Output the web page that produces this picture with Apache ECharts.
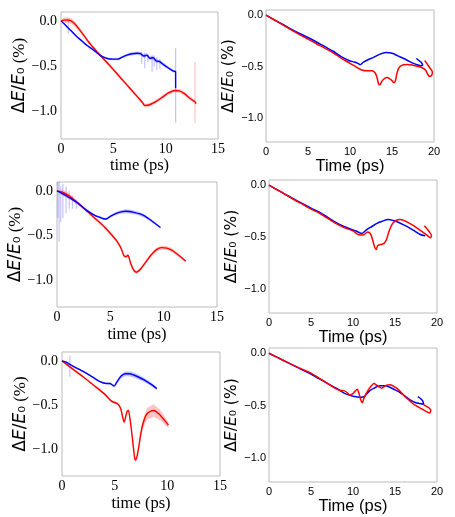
<!DOCTYPE html>
<html><head><meta charset="utf-8">
<script src="https://cdn.jsdelivr.net/npm/echarts@6/dist/echarts.min.js"></script>
<style>html,body{margin:0;padding:0;background:#fff}#c{width:455px;height:517px}</style>
</head><body><div id="c"></div><script>
// ---------- Panel 1 (top-left) ----------
const p1BlueX = [0, 0.3, 0.6, 1.0, 1.5, 2.0, 2.5, 3.0, 3.5, 3.9, 4.5, 5.0, 5.4, 5.8, 6.3, 6.8, 7.3, 7.6, 7.9, 8.2, 8.5, 8.8, 9.1, 9.4, 9.8, 10.3, 10.7, 10.95, 10.95];
const p1BlueY = [0, -0.03, -0.065, -0.11, -0.17, -0.22, -0.27, -0.31, -0.355, -0.39, -0.415, -0.42, -0.42, -0.40, -0.375, -0.36, -0.355, -0.36, -0.385, -0.375, -0.41, -0.405, -0.44, -0.445, -0.48, -0.52, -0.55, -0.56, -0.74];
const p1BlueS = [0, 0.01, 0.012, 0.012, 0.012, 0.012, 0.012, 0.012, 0.012, 0.012, 0.012, 0.012, 0.012, 0.012, 0.015, 0.018, 0.02, 0.02, 0.02, 0.02, 0.02, 0.02, 0.02, 0.02, 0.02, 0.015, 0.015, 0.015, 0.015];
const p1BlueSpikes = [[0.7, 0.0, -0.14], [7.7, -0.34, -0.47], [8.0, -0.35, -0.52], [8.3, -0.36, -0.45], [8.7, -0.37, -0.56], [8.9, -0.38, -0.5], [9.15, -0.40, -0.54], [9.45, -0.42, -0.53], [10.95, -0.3, -1.12]];
const p1RedX = [0, 0.3, 0.6, 1.0, 1.4, 1.8, 2.2, 2.6, 3.0, 3.4, 3.9, 4.5, 5.0, 5.5, 6.0, 6.5, 7.0, 7.5, 7.8, 8.0, 8.4, 8.8, 9.3, 9.8, 10.3, 10.9, 11.3, 11.8, 12.3, 12.8, 12.9];
const p1RedY = [0, 0.01, 0.012, 0.0, -0.04, -0.10, -0.16, -0.225, -0.28, -0.335, -0.395, -0.47, -0.535, -0.60, -0.665, -0.73, -0.795, -0.86, -0.9, -0.93, -0.925, -0.905, -0.87, -0.83, -0.79, -0.765, -0.77, -0.80, -0.85, -0.89, -0.91];
const p1RedS = [0, 0.03, 0.03, 0.03, 0.028, 0.025, 0.02, 0.02, 0.02, 0.02, 0.02, 0.018, 0.018, 0.018, 0.018, 0.018, 0.018, 0.018, 0.018, 0.018, 0.02, 0.02, 0.02, 0.02, 0.02, 0.02, 0.02, 0.02, 0.02, 0.02, 0.02];
const p1RedSpikes = [[12.8, -0.45, -1.13]];

// ---------- Panel 2 (top-right) ----------
const p2BlueX = [0, 1, 2, 3, 4, 5, 6, 7, 8, 9, 10, 10.5, 11.0, 11.2, 11.6, 12.2, 12.8, 13.5, 14.3, 15.0, 15.7, 16.4, 17.1, 17.8, 18.4, 18.65, 18.5, 18.2, 17.9];
const p2BlueY = [0, -0.045, -0.09, -0.135, -0.178, -0.217, -0.26, -0.305, -0.35, -0.405, -0.444, -0.455, -0.47, -0.48, -0.455, -0.43, -0.41, -0.38, -0.363, -0.37, -0.395, -0.42, -0.45, -0.475, -0.49, -0.485, -0.46, -0.44, -0.42];
const p2RedX = [0, 1, 2, 3, 4, 5, 6, 7, 8, 9, 10, 10.5, 11, 11.5, 12, 12.6, 13.0, 13.2, 13.4, 13.55, 13.8, 14.1, 14.4, 14.7, 15.0, 15.2, 15.4, 15.6, 15.8, 16.2, 16.8, 17.4, 18.0, 18.6, 19.0, 19.3, 19.5, 19.75, 19.8, 19.5, 19.2, 18.9];
const p2RedY = [0, -0.047, -0.095, -0.142, -0.188, -0.232, -0.277, -0.32, -0.365, -0.42, -0.467, -0.49, -0.515, -0.535, -0.54, -0.54, -0.56, -0.6, -0.665, -0.675, -0.64, -0.615, -0.605, -0.615, -0.635, -0.655, -0.635, -0.56, -0.515, -0.485, -0.478, -0.483, -0.495, -0.51, -0.535, -0.58, -0.595, -0.58, -0.55, -0.51, -0.475, -0.44];

// ---------- Panel 3 (middle-left) ----------
const p3BlueX = [0, 0.5, 1.0, 1.5, 2.0, 2.75, 3.5, 4.0, 4.5, 4.7, 5.0, 5.5, 6.0, 6.4, 6.8, 7.2, 7.7, 8.2, 8.7, 9.2, 9.7];
const p3BlueY = [0, -0.03, -0.065, -0.10, -0.14, -0.215, -0.27, -0.295, -0.315, -0.31, -0.285, -0.255, -0.235, -0.228, -0.23, -0.24, -0.255, -0.28, -0.32, -0.365, -0.41];
const p3BlueS = [0, 0.015, 0.015, 0.012, 0.012, 0.012, 0.012, 0.012, 0.012, 0.012, 0.012, 0.018, 0.02, 0.022, 0.022, 0.022, 0.02, 0.02, 0.018, 0.015, 0.012];
const p3BlueSpikes = [[0.08, 0.1, -0.3], [0.2, 0.1, -0.57], [0.35, 0.05, -0.35], [0.55, 0.08, -0.3], [0.85, 0.05, -0.25], [1.15, 0.0, -0.2], [1.45, -0.05, -0.2], [1.8, -0.1, -0.2]];
const p3RedX = [0, 0.5, 1.0, 1.5, 2.0, 2.75, 3.5, 4.5, 5.25, 5.6, 6.0, 6.3, 6.5, 6.65, 6.9, 7.2, 7.45, 7.8, 8.3, 8.8, 9.3, 9.8, 10.3, 10.8, 11.4, 12.07];
const p3RedY = [0, -0.015, -0.045, -0.09, -0.14, -0.22, -0.3, -0.41, -0.51, -0.56, -0.64, -0.73, -0.735, -0.72, -0.81, -0.89, -0.91, -0.88, -0.80, -0.72, -0.66, -0.635, -0.64, -0.665, -0.72, -0.785];
const p3RedS = [0, 0.03, 0.03, 0.028, 0.022, 0.02, 0.018, 0.018, 0.018, 0.018, 0.018, 0.018, 0.018, 0.018, 0.02, 0.02, 0.02, 0.02, 0.02, 0.02, 0.022, 0.022, 0.022, 0.02, 0.02, 0.018];

// ---------- Panel 4 (middle-right) ----------
const p4BlueX = [0, 1, 2, 3, 4, 5, 6, 7, 8, 9, 10, 10.6, 11.05, 11.6, 12.2, 12.8, 13.4, 14.2, 14.8, 15.4, 16.1, 16.8, 17.4, 18.0, 18.6];
const p4BlueY = [0, -0.045, -0.09, -0.135, -0.178, -0.22, -0.26, -0.31, -0.36, -0.40, -0.43, -0.45, -0.464, -0.43, -0.40, -0.37, -0.35, -0.33, -0.34, -0.357, -0.385, -0.415, -0.445, -0.475, -0.487];
const p4RedX = [0, 1, 2, 3, 4, 5, 6, 7, 8, 9, 10, 10.6, 11.2, 11.75, 12.1, 12.35, 12.55, 12.75, 12.95, 13.3, 13.7, 14.0, 14.3, 14.7, 15.1, 15.6, 16.2, 16.9, 17.6, 18.2, 18.8, 19.2, 19.35, 19.1, 18.5];
const p4RedY = [0, -0.046, -0.093, -0.14, -0.185, -0.23, -0.27, -0.32, -0.37, -0.41, -0.44, -0.474, -0.48, -0.45, -0.47, -0.53, -0.59, -0.62, -0.58, -0.57, -0.56, -0.52, -0.44, -0.37, -0.34, -0.33, -0.345, -0.375, -0.41, -0.445, -0.48, -0.505, -0.49, -0.45, -0.39];

// ---------- Panel 5 (bottom-left) ----------
const p5BlueX = [0, 0.4, 0.75, 1.2, 2.0, 2.8, 3.6, 4.2, 4.55, 4.75, 4.95, 5.2, 5.6, 6.0, 6.4, 6.8, 7.3, 7.8, 8.4, 9.0];
const p5BlueY = [0, -0.015, -0.04, -0.07, -0.12, -0.175, -0.235, -0.255, -0.255, -0.27, -0.285, -0.24, -0.175, -0.145, -0.145, -0.16, -0.185, -0.215, -0.26, -0.313];
const p5BlueS = [0, 0.01, 0.01, 0.01, 0.01, 0.01, 0.01, 0.01, 0.012, 0.012, 0.015, 0.02, 0.025, 0.028, 0.028, 0.028, 0.028, 0.025, 0.022, 0.018];
const p5BlueSpikes = [[0.75, 0.06, -0.18]];
const p5RedX = [0, 0.5, 1, 2, 3, 4, 4.7, 5.2, 5.4, 5.6, 5.75, 5.9, 6.05, 6.15, 6.3, 6.45, 6.65, 6.8, 6.95, 7.1, 7.25, 7.6, 8.05, 8.7, 9.3, 10.1];
const p5RedY = [0, -0.045, -0.09, -0.18, -0.275, -0.37, -0.455, -0.48, -0.50, -0.55, -0.63, -0.69, -0.63, -0.58, -0.56, -0.65, -0.84, -1.0, -1.12, -1.09, -1.0, -0.75, -0.6, -0.56, -0.61, -0.725];
const p5RedS = [0, 0.012, 0.012, 0.012, 0.012, 0.012, 0.012, 0.015, 0.015, 0.018, 0.02, 0.022, 0.02, 0.02, 0.02, 0.022, 0.025, 0.03, 0.03, 0.03, 0.035, 0.05, 0.065, 0.07, 0.06, 0.035];

// ---------- Panel 6 (bottom-right) ----------
const p6BlueX = [0, 1, 2, 3, 4, 5, 6, 7, 8, 9, 10, 11, 11.4, 12, 12.6, 13.2, 13.8, 14.4, 15.0, 15.6, 16.2, 16.8, 17.4, 17.9, 18.4, 18.3, 18.0, 17.7];
const p6BlueY = [0, -0.04, -0.08, -0.12, -0.16, -0.198, -0.245, -0.29, -0.334, -0.383, -0.41, -0.42, -0.41, -0.357, -0.33, -0.31, -0.31, -0.325, -0.35, -0.375, -0.41, -0.445, -0.47, -0.48, -0.487, -0.455, -0.43, -0.415];
const p6RedX = [0, 1, 2, 3, 4, 5, 6, 7, 8, 8.5, 8.9, 9.3, 9.6, 9.9, 10.2, 10.5, 10.7, 10.9, 11.1, 11.3, 11.6, 11.9, 12.2, 12.5, 12.8, 13.1, 13.4, 13.7, 14.0, 14.4, 14.8, 15.2, 15.7, 16.2, 16.7, 17.1, 17.6, 18.1, 18.7, 19.1, 19.25, 19.1, 18.7, 18.4];
const p6RedY = [0, -0.04, -0.08, -0.118, -0.155, -0.19, -0.24, -0.29, -0.34, -0.355, -0.357, -0.375, -0.40, -0.39, -0.367, -0.344, -0.38, -0.44, -0.474, -0.43, -0.38, -0.34, -0.31, -0.29, -0.305, -0.32, -0.334, -0.318, -0.305, -0.30, -0.315, -0.334, -0.37, -0.415, -0.45, -0.48, -0.505, -0.53, -0.555, -0.57, -0.55, -0.525, -0.506, -0.49];

// ---------- axes ----------
const yTicks = [-1.0, -0.5, 0.0];
const leftXTicks = { min: 0, max: 15, interval: 5 };
const rightXTicks = { min: 0, max: 20, interval: 5 };
const leftYRange = { min: -1.3, max: 0.1 };
const rightYRange = { min: -1.23, max: 0.05 };

const BLUE = '#0000ff', RED = '#ff0000';
const BLUE_BAND = 'rgba(60,60,255,0.3)', RED_BAND = 'rgba(255,60,60,0.3)';

const chart = echarts.init(document.getElementById('c'), null, { renderer: 'canvas' });

const grids = [
  { left: 61, top: 12, width: 157, height: 127 },
  { left: 266, top: 10, width: 168, height: 132 },
  { left: 57, top: 182, width: 160, height: 125 },
  { left: 269, top: 180, width: 168, height: 133 },
  { left: 62, top: 352, width: 158, height: 124 },
  { left: 269, top: 348, width: 168, height: 134 }
].map(g => Object.assign({ show: true, borderColor: '#bbbbbb', borderWidth: 1, containLabel: false }, g));

const isLeft = i => i % 2 === 0;
const fmt = v => (Math.abs(v) < 1e-9 ? '0.0' : v.toFixed(1).replace('-', '\u2212'));
const xNameGaps = [17, 14, 19, 13, 19, 13];
const yNameGaps = [33, 20, 31, 23, 28, 23];

const xAxes = grids.map((g, i) => {
  const L = isLeft(i);
  const t = L ? leftXTicks : rightXTicks;
  return {
    type: 'value', gridIndex: i, min: t.min, max: t.max, interval: t.interval,
    axisLine: { show: false }, axisTick: { show: false }, splitLine: { show: false },
    axisLabel: { color: '#000', fontFamily: L ? 'Liberation Serif' : 'Liberation Sans', fontSize: L ? 14 : 11, margin: L ? 3 : 4 },
    name: L ? 'time (ps)' : 'Time (ps)', nameLocation: 'middle', nameGap: xNameGaps[i],
    nameTextStyle: { color: '#000', fontFamily: L ? 'Liberation Serif' : 'Liberation Sans', fontSize: L ? 16.5 : 16.5 }
  };
});

const yAxes = grids.map((g, i) => {
  const L = isLeft(i);
  const r = L ? leftYRange : rightYRange;
  const fs = L ? 17 : 15.5;
  return {
    type: 'value', gridIndex: i, min: r.min, max: r.max,
    axisLine: { show: false }, axisTick: { show: false, customValues: yTicks }, splitLine: { show: false },
    axisLabel: { customValues: yTicks, formatter: fmt, color: '#000', fontFamily: L ? 'Liberation Serif' : 'Liberation Sans', fontSize: L ? 14 : 11, margin: L ? 4 : 3 },
    name: '{m|\u0394}{i|E}{m|/}{i|E}{m|\u2080}{t| (%)}', nameLocation: 'middle', nameRotate: 90, nameGap: yNameGaps[i],
    nameTextStyle: {
      color: '#000',
      rich: {
        m: { fontFamily: 'DejaVu Sans', fontSize: fs, color: '#000' },
        i: { fontFamily: 'DejaVu Sans', fontStyle: 'italic', fontSize: fs, color: '#000' },
        t: { fontFamily: L ? 'Liberation Serif' : 'DejaVu Sans', fontSize: fs, color: '#000' }
      }
    }
  };
});

function pairs(xs, ys) { return xs.map((x, k) => [x, ys[k]]); }

function lineSeries(idx, xs, ys, color, width) {
  return {
    type: 'line', xAxisIndex: idx, yAxisIndex: idx, data: pairs(xs, ys),
    showSymbol: false, symbol: 'none', smooth: 0.3, clip: true, z: 5,
    lineStyle: { color: color, width: width }, itemStyle: { color: color }, silent: true
  };
}

function rectOf(cs) { return { x: cs.x, y: cs.y, width: cs.width, height: cs.height }; }

function bandSeries(idx, xs, ys, ss, color) {
  return {
    type: 'custom', xAxisIndex: idx, yAxisIndex: idx, silent: true, z: 2,
    data: xs.map((x, k) => [x, ys[k], ss[k]]),
    renderItem: (params, api) => {
      if (params.dataIndex !== 0) return null;
      const up = xs.map((x, k) => api.coord([x, ys[k] + ss[k]]));
      const lo = xs.map((x, k) => api.coord([x, ys[k] - ss[k]])).reverse();
      const pts = echarts.graphic.clipPointsByRect(up.concat(lo), rectOf(params.coordSys));
      return { type: 'polygon', shape: { points: pts }, style: { fill: color } };
    }
  };
}

function spikeSeries(idx, spikes, color) {
  return {
    type: 'custom', xAxisIndex: idx, yAxisIndex: idx, silent: true, z: 2,
    data: spikes,
    renderItem: (params, api) => {
      const a = api.coord([api.value(0), api.value(1)]);
      const b = api.coord([api.value(0), api.value(2)]);
      const p = echarts.graphic.clipPointsByRect([a, b], rectOf(params.coordSys));
      return { type: 'line', shape: { x1: p[0][0], y1: p[0][1], x2: p[1][0], y2: p[1][1] }, style: { stroke: color, lineWidth: 1.2 } };
    }
  };
}

const series = [
  // panel 1
  bandSeries(0, p1BlueX, p1BlueY, p1BlueS, BLUE_BAND), spikeSeries(0, p1BlueSpikes, BLUE_BAND),
  bandSeries(0, p1RedX, p1RedY, p1RedS, RED_BAND), spikeSeries(0, p1RedSpikes, RED_BAND),
  lineSeries(0, p1RedX, p1RedY, RED, 1.4), lineSeries(0, p1BlueX, p1BlueY, BLUE, 1.4),
  // panel 2
  lineSeries(1, p2BlueX, p2BlueY, BLUE, 1.5), lineSeries(1, p2RedX, p2RedY, RED, 1.5),
  // panel 3
  bandSeries(2, p3BlueX, p3BlueY, p3BlueS, BLUE_BAND), spikeSeries(2, p3BlueSpikes, BLUE_BAND),
  bandSeries(2, p3RedX, p3RedY, p3RedS, RED_BAND),
  lineSeries(2, p3RedX, p3RedY, RED, 1.4), lineSeries(2, p3BlueX, p3BlueY, BLUE, 1.4),
  // panel 4
  lineSeries(3, p4BlueX, p4BlueY, BLUE, 1.5), lineSeries(3, p4RedX, p4RedY, RED, 1.5),
  // panel 5
  bandSeries(4, p5BlueX, p5BlueY, p5BlueS, BLUE_BAND), spikeSeries(4, p5BlueSpikes, BLUE_BAND),
  bandSeries(4, p5RedX, p5RedY, p5RedS, RED_BAND),
  lineSeries(4, p5RedX, p5RedY, RED, 1.4), lineSeries(4, p5BlueX, p5BlueY, BLUE, 1.4),
  // panel 6
  lineSeries(5, p6BlueX, p6BlueY, BLUE, 1.5), lineSeries(5, p6RedX, p6RedY, RED, 1.5)
];

chart.setOption({
  animation: false,
  backgroundColor: '#ffffff',
  grid: grids, xAxis: xAxes, yAxis: yAxes, series: series
});
</script></body></html>
